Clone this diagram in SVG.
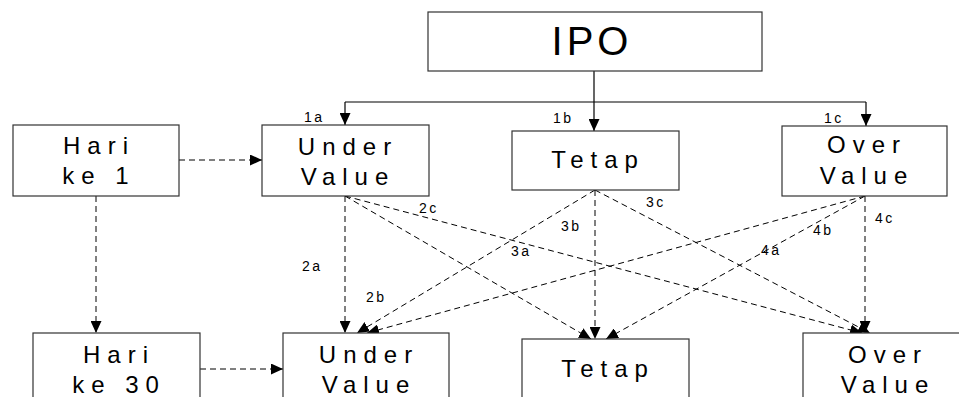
<svg xmlns="http://www.w3.org/2000/svg" width="959" height="397" viewBox="0 0 959 397">
<defs>
<marker id="ah" markerUnits="userSpaceOnUse" markerWidth="13" markerHeight="11" refX="12" refY="5.5" orient="auto">
<path d="M0,0 L12,5.5 L0,11 Z" fill="#000"/>
</marker>
<style>
.box{fill:#fff;stroke:#333;stroke-width:1.2}
.t{font-family:"Liberation Sans",Arial,sans-serif;font-size:24px;letter-spacing:7px;fill:#000;text-anchor:middle}
.big{font-family:"Liberation Sans",Arial,sans-serif;font-size:40px;letter-spacing:4px;fill:#000;text-anchor:middle}
.lb{font-family:"Liberation Sans",Arial,sans-serif;font-size:14px;letter-spacing:2.5px;fill:#000}
.solid{fill:none;stroke:#000;stroke-width:1.2}
.dash{fill:none;stroke:#000;stroke-width:1;stroke-dasharray:6 4}
</style>
</defs>
<rect width="959" height="397" fill="#fff"/>
<g id="connectors">
<path class="solid" d="M594,71 V102"/>
<path class="solid" d="M345,102 H866"/>
<path class="solid" d="M345,102 V125" marker-end="url(#ah)"/>
<path class="solid" d="M594,102 V131" marker-end="url(#ah)"/>
<path class="solid" d="M866,102 V126" marker-end="url(#ah)"/>
<path class="dash" d="M179,160 H262" marker-end="url(#ah)"/>
<path class="dash" d="M96,196 V333" marker-end="url(#ah)"/>
<path class="dash" d="M200,369 H283" marker-end="url(#ah)"/>
<path class="dash" d="M345,196 V333" marker-end="url(#ah)"/>
<path class="dash" d="M345,196 L591,339" marker-end="url(#ah)"/>
<path class="dash" d="M345,196 L862,333" marker-end="url(#ah)"/>
<path class="dash" d="M595,190 V339" marker-end="url(#ah)"/>
<path class="dash" d="M595,190 L357,333" marker-end="url(#ah)"/>
<path class="dash" d="M595,190 L870,333" marker-end="url(#ah)"/>
<path class="dash" d="M865,196 V333" marker-end="url(#ah)"/>
<path class="dash" d="M865,196 L367,333" marker-end="url(#ah)"/>
<path class="dash" d="M865,196 L606,339" marker-end="url(#ah)"/>
<text class="lb" x="304" y="122">1a</text>
<text class="lb" x="553" y="123">1b</text>
<text class="lb" x="824" y="123">1c</text>
<text class="lb" x="302" y="271">2a</text>
<text class="lb" x="366" y="302">2b</text>
<text class="lb" x="419" y="213">2c</text>
<text class="lb" x="511" y="256">3a</text>
<text class="lb" x="561" y="231">3b</text>
<text class="lb" x="646" y="207">3c</text>
<text class="lb" x="761" y="255">4a</text>
<text class="lb" x="813" y="235">4b</text>
<text class="lb" x="875" y="223">4c</text>
</g>
<g id="ipo"><rect class="box" x="428" y="12" width="334" height="59"/><text class="big" x="592" y="55">IPO</text></g>
<g id="hari1"><rect class="box" x="13" y="125" width="166" height="71"/><text class="t" x="99" y="154">Hari</text><text class="t" x="99" y="184">ke 1</text></g>
<g id="under1"><rect class="box" x="262" y="125" width="167" height="71"/><text class="t" x="348" y="155">Under</text><text class="t" x="348" y="185">Value</text></g>
<g id="tetap1"><rect class="box" x="512" y="131" width="167" height="59"/><text class="t" x="598" y="168">Tetap</text></g>
<g id="over1"><rect class="box" x="782" y="126" width="165" height="70"/><text class="t" x="867" y="153">Over</text><text class="t" x="867" y="184">Value</text></g>
<g id="hari30"><rect class="box" x="33" y="333" width="167" height="80"/><text class="t" x="119" y="363">Hari</text><text class="t" x="119" y="393">ke 30</text></g>
<g id="under30"><rect class="box" x="283" y="333" width="166" height="80"/><text class="t" x="369" y="363">Under</text><text class="t" x="369" y="393">Value</text></g>
<g id="tetap30"><rect class="box" x="522" y="339" width="167" height="80"/><text class="t" x="608" y="377">Tetap</text></g>
<g id="over30"><rect class="box" x="803" y="333" width="166" height="80"/><text class="t" x="888" y="363">Over</text><text class="t" x="888" y="393">Value</text></g>
</svg>
